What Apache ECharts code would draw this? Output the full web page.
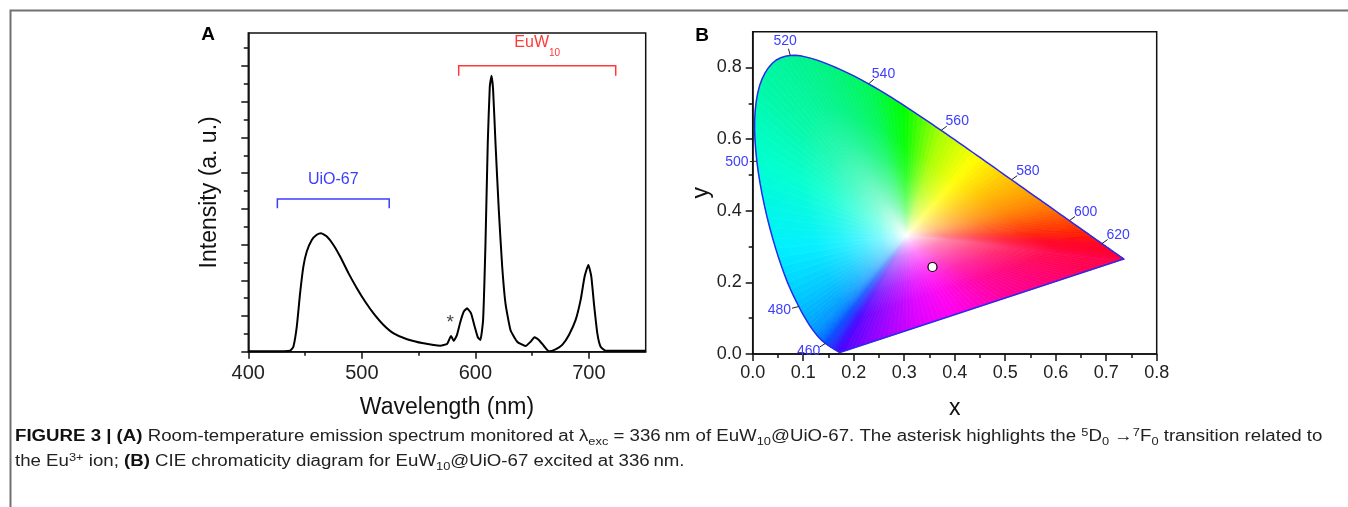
<!DOCTYPE html>
<html>
<head>
<meta charset="utf-8">
<script src="https://cdn.jsdelivr.net/npm/echarts@6/dist/echarts.min.js"></script>
<style>
  html, body { margin: 0; padding: 0; background: #fff; }
  #chart { width: 1348px; height: 507px; }
</style>
</head>
<body>
<div id="chart"></div>
<script>
// ---------- Panel A: room-temperature emission spectrum ----------
const wavelength = [400, 420, 436.8, 439.7, 442.7, 445.6, 448.5, 451.5, 455.9, 460.3, 464.1, 469.2, 475, 480.9,
  488.2, 495.6, 503, 510.3, 519.1, 528, 539.8, 554.4, 569.1, 575, 578.6, 580.9, 583.8, 586.8, 589.7, 592.7,
  596.2, 599.4, 602.1, 604.4, 606.8, 608.9, 610.9, 612.7, 614.2, 615.6, 617.7, 620.6, 623.6, 626.5, 630.9,
  636.8, 644.2, 648.6, 652.1, 655.9, 660.3, 664.7, 670.6, 676.5, 682.4, 688.3, 692.7, 696.2, 699.5, 702.1,
  704.4, 707.4, 710.3, 714.7, 730, 750];
const intensity = [0.02, 0.02, 0.05, 0.28, 1.40, 3.27, 4.77, 5.61, 6.26, 6.55, 6.64, 6.45, 5.98, 5.33,
  4.40, 3.56, 2.80, 2.15, 1.50, 1.03, 0.70, 0.47, 0.34, 0.43, 0.88, 0.60, 0.94, 1.68, 2.24, 2.43,
  2.15, 1.40, 0.81, 0.66, 1.78, 6.08, 11.69, 14.86, 15.46, 14.68, 11.69, 7.95, 4.77, 2.71, 1.22,
  0.56, 0.32, 0.56, 0.81, 0.66, 0.32, 0.02, 0.13, 0.38, 0.94, 1.78, 2.90, 4.21, 4.86, 4.21,
  2.71, 1.03, 0.28, 0.06, 0.05, 0.05];
const wavelengthTicks = [400, 500, 600, 700];
const wavelengthMinorTicks = [450, 550, 650];
const intensityTicks = [0, 2, 4, 6, 8, 10, 12, 14, 16];
const intensityMinorTicks = [1, 3, 5, 7, 9, 11, 13, 15, 17];

// Emission bands marked with brackets
const bandNames = ['UiO-67', 'EuW10'];
const bandFrom = [425.6, 585.3];
const bandTo = [524.1, 723.6];
const bandTop = [8.55, 16.02];
const bandFoot = [8.04, 15.46];
const bandColors = ['#3c3cff', '#ff3838'];
// 5D0 -> 7F0 line (asterisk)
const f0Peak = [578.6, 0.88];

// ---------- Panel B: CIE 1931 chromaticity diagram ----------
const locusNm = [380, 385, 390, 395, 400, 405, 410, 415, 420, 425, 430, 435, 440, 445, 450, 455, 460, 465,
  470, 475, 480, 485, 490, 495, 500, 505, 510, 515, 520, 525, 530, 535, 540, 545, 550, 555, 560, 565, 570,
  575, 580, 585, 590, 595, 600, 605, 610, 615, 620, 625, 630, 635, 640, 645, 650, 655, 660, 665, 670, 675,
  680, 685, 690, 695, 700];
const locusX = [0.1741, 0.1740, 0.1738, 0.1736, 0.1733, 0.1730, 0.1726, 0.1721, 0.1714, 0.1703, 0.1689,
  0.1669, 0.1644, 0.1611, 0.1566, 0.1510, 0.1440, 0.1355, 0.1241, 0.1096, 0.0913, 0.0687, 0.0454, 0.0235,
  0.0082, 0.0039, 0.0139, 0.0389, 0.0743, 0.1142, 0.1547, 0.1929, 0.2296, 0.2658, 0.3016, 0.3373, 0.3731,
  0.4087, 0.4441, 0.4788, 0.5125, 0.5448, 0.5752, 0.6029, 0.6270, 0.6482, 0.6658, 0.6801, 0.6915, 0.7006,
  0.7079, 0.7140, 0.7190, 0.7230, 0.7260, 0.7283, 0.7300, 0.7311, 0.7320, 0.7327, 0.7334, 0.7340, 0.7344,
  0.7346, 0.7347];
const locusY = [0.0050, 0.0050, 0.0049, 0.0049, 0.0048, 0.0048, 0.0048, 0.0048, 0.0051, 0.0058, 0.0069,
  0.0086, 0.0109, 0.0138, 0.0177, 0.0227, 0.0297, 0.0399, 0.0578, 0.0868, 0.1327, 0.2007, 0.2950, 0.4127,
  0.5384, 0.6548, 0.7502, 0.8120, 0.8338, 0.8262, 0.8059, 0.7816, 0.7543, 0.7243, 0.6923, 0.6589, 0.6245,
  0.5896, 0.5547, 0.5202, 0.4866, 0.4544, 0.4242, 0.3965, 0.3725, 0.3514, 0.3340, 0.3197, 0.3083, 0.2993,
  0.2920, 0.2859, 0.2809, 0.2770, 0.2740, 0.2717, 0.2700, 0.2689, 0.2680, 0.2673, 0.2666, 0.2660, 0.2656,
  0.2654, 0.2653];
const locusLabelNm = [460, 480, 500, 520, 540, 560, 580, 600, 620];
const cieXTicks = [0, 0.1, 0.2, 0.3, 0.4, 0.5, 0.6, 0.7, 0.8];
const cieXMinorTicks = [0.05, 0.15, 0.25, 0.35, 0.45, 0.55, 0.65, 0.75];
const cieYTicks = [0, 0.2, 0.4, 0.6, 0.8];
const cieYMinorTicks = [0.1, 0.3, 0.5, 0.7];
// chromaticity of EuW10@UiO-67 under 336 nm excitation
const sampleXY = [0.356, 0.243];

// ---------- drawing styles ----------
const FONT = '"Liberation Sans", Arial, Helvetica, sans-serif';
const WHITE_POINT = [0.305, 0.33];
const SPECTRAL_HUES = [[380, '#5000ff'], [440, '#3a10ff'], [455, '#1838ff'], [460, '#0048ff'], [470, '#0090ff'],
  [480, '#00c0ff'], [490, '#00f0ff'], [500, '#00ffd0'], [510, '#00f8a8'], [520, '#00f494'], [530, '#00f47c'],
  [540, '#00f858'], [550, '#00ff00'], [560, '#a8ff00'], [570, '#ffff00'], [580, '#ffc000'], [590, '#ff8800'],
  [600, '#ff4800'], [610, '#ff1800'], [620, '#ff0020'], [650, '#ff0038'], [700, '#ff0044']];
const PURPLE_HUES = [[0, '#ff0048'], [0.1, '#ff0050'], [0.4, '#ff0098'], [0.6, '#ff00f0'], [0.72, '#e000ff'],
  [0.82, '#b000ff'], [0.92, '#8000ff'], [1, '#5000ff']];
// how quickly the colour saturates going out from the white point (offset -> share of full colour)
const SATURATION = [[0, 0], [0.1, 0.28], [0.2, 0.5], [0.35, 0.7], [0.5, 0.85], [0.7, 0.97], [1, 1]];
const SPLINE_STEPS = 4;

function hexRgb(h) { return [1, 3, 5].map(k => parseInt(h.substr(k, 2), 16)); }
function rgbStr(c) { return 'rgb(' + c.map(v => Math.round(v)).join(',') + ')'; }
function ramp(stops, v) {
  if (v <= stops[0][0]) return hexRgb(stops[0][1]);
  for (let k = 1; k < stops.length; k++) {
    if (v <= stops[k][0]) {
      const a = hexRgb(stops[k - 1][1]), b = hexRgb(stops[k][1]);
      const t = (v - stops[k - 1][0]) / (stops[k][0] - stops[k - 1][0]);
      return a.map((c, j) => c + (b[j] - c) * t);
    }
  }
  return hexRgb(stops[stops.length - 1][1]);
}
function shadeStops(col) {
  return SATURATION.map(([p, m]) => ({ offset: p, color: rgbStr(col.map(c => 255 + (c - 255) * m)) }));
}
function lerpPt(a, b, t) { return [a[0] + (b[0] - a[0]) * t, a[1] + (b[1] - a[1]) * t]; }

// locus in pixels
function locusPixels(api) { return locusX.map((x, i) => api.coord([x, locusY[i]])); }
// smooth (Catmull-Rom) pixel path between locus points i and i+1
function splineSeg(P, i, steps) {
  const p0 = P[Math.max(i - 1, 0)], p1 = P[i], p2 = P[i + 1], p3 = P[Math.min(i + 2, P.length - 1)];
  const out = [];
  for (let s = 0; s <= steps; s++) {
    const t = s / steps, t2 = t * t, t3 = t2 * t;
    out.push([0, 1].map(j => 0.5 * (2 * p1[j] + (-p0[j] + p2[j]) * t +
      (2 * p0[j] - 5 * p1[j] + 4 * p2[j] - p3[j]) * t2 + (-p0[j] + 3 * p1[j] - 3 * p2[j] + p3[j]) * t3)));
  }
  return out;
}

function fanPiece(w, a, b, col) {
  const mid = lerpPt(a, b, 0.5);
  const r = Math.max(Math.hypot(mid[0] - w[0], mid[1] - w[1]), 1);
  const grad = new echarts.graphic.RadialGradient(w[0], w[1], r, shadeStops(col), true);
  return { type: 'polygon', shape: { points: [w, a, b] }, style: { fill: grad, stroke: grad, lineWidth: 0.7 } };
}

// colour fill of the horseshoe: a fan of thin wedges from the white point to the boundary
function renderFill(params, api) {
  const i = params.dataIndex;
  const P = locusPixels(api);
  const n = P.length;
  const w = api.coord(WHITE_POINT);
  const children = [];
  if (i < n - 1) {
    const pts = splineSeg(P, i, SPLINE_STEPS);
    for (let k = 0; k < SPLINE_STEPS; k++) {
      const nm = locusNm[i] + (locusNm[i + 1] - locusNm[i]) * (k + 0.5) / SPLINE_STEPS;
      children.push(fanPiece(w, pts[k], pts[k + 1], ramp(SPECTRAL_HUES, nm)));
    }
  } else {
    // line of purples, from the red end back to the violet end
    const a = P[n - 1], b = P[0];
    const steps = 60;
    for (let k = 0; k < steps; k++) {
      const t0 = k / steps, t1 = (k + 1) / steps;
      children.push(fanPiece(w, lerpPt(a, b, t0), lerpPt(a, b, t1), ramp(PURPLE_HUES, (t0 + t1) / 2)));
    }
  }
  return { type: 'group', children };
}

// boundary of the diagram: smooth spectral locus closed by the line of purples
function renderOutline(params, api) {
  const P = locusPixels(api);
  let pts = [P[0]];
  for (let i = 0; i < P.length - 1; i++) pts = pts.concat(splineSeg(P, i, SPLINE_STEPS).slice(1));
  return { type: 'polygon', shape: { points: pts }, style: { fill: null, stroke: '#2a2aee', lineWidth: 1.5 } };
}

// wavelength marks on the spectral locus
function renderLocusLabel(params, api) {
  const nm = api.value(2);
  const idx = locusNm.indexOf(nm);
  const p = api.coord([locusX[idx], locusY[idx]]);
  // normal taken in chromaticity space, then mapped to pixels
  const tx = locusX[idx + 1] - locusX[idx - 1], ty = locusY[idx + 1] - locusY[idx - 1];
  const q = api.coord([locusX[idx] - ty, locusY[idx] + tx]);
  let nx = q[0] - p[0], ny = q[1] - p[1];
  const L = Math.hypot(nx, ny); nx /= L; ny /= L;
  const w = api.coord(WHITE_POINT);
  if ((p[0] - w[0]) * nx + (p[1] - w[1]) * ny < 0) { nx = -nx; ny = -ny; }
  const e = [p[0] + nx * 7, p[1] + ny * 7];
  return {
    type: 'group',
    children: [
      { type: 'line', shape: { x1: p[0], y1: p[1], x2: e[0], y2: e[1] }, style: { stroke: '#222', lineWidth: 1 } },
      { type: 'text', x: e[0] + nx * 13, y: e[1] + ny * 8,
        style: { text: String(nm), fill: '#3d3dff', fontSize: 14, fontFamily: FONT, align: 'center', verticalAlign: 'middle' } }
    ]
  };
}

// brackets and their captions above the spectrum
function renderBand(params, api) {
  const i = params.dataIndex;
  const a = api.coord([bandFrom[i], bandFoot[i]]);
  const b = api.coord([bandFrom[i], bandTop[i]]);
  const c = api.coord([bandTo[i], bandTop[i]]);
  const d = api.coord([bandTo[i], bandFoot[i]]);
  const col = bandColors[i];
  const name = bandNames[i];
  const m = name.match(/^(.*?)(\d+)$/);
  const label = m && name.indexOf('-') < 0 ? '{n|' + m[1] + '}{s|' + m[2] + '}' : '{n|' + name + '}';
  return {
    type: 'group',
    children: [
      { type: 'polyline', shape: { points: [a, b, c, d] }, style: { stroke: col, lineWidth: 1.5, fill: null } },
      { type: 'text', x: (b[0] + c[0]) / 2, y: b[1] - 18,
        style: { text: label, fill: col, align: 'center', verticalAlign: 'middle',
          rich: { n: { fontSize: 16, fontFamily: FONT, fill: col, lineHeight: 18, verticalAlign: 'top' },
                  s: { fontSize: 10, fontFamily: FONT, fill: col, lineHeight: 26, verticalAlign: 'top', padding: [14, 0, 0, 0] } } } }
    ]
  };
}

function renderStar(params, api) {
  const p = api.coord([api.value(0), api.value(1)]);
  return { type: 'text', x: p[0] - 1, y: p[1] - 13,
    style: { text: '*', fill: '#444', fontSize: 19, fontFamily: FONT, align: 'center', verticalAlign: 'middle' } };
}

const axisLineStyle = { show: true, lineStyle: { color: '#111', width: 1.5 } };
const labelStyle = { color: '#222', fontFamily: FONT };
const nameStyle = { color: '#111', fontSize: 23, fontFamily: FONT };

function minorAxis(gridIndex, position, min, max, ticks, len) {
  return {
    type: 'value', gridIndex, position, min, max,
    axisLine: { show: false, onZero: false }, splitLine: { show: false },
    axisLabel: { show: false },
    axisTick: { show: true, customValues: ticks, length: len, lineStyle: { color: '#111', width: 1.5 } }
  };
}

const captionRich = {
  b: { fontSize: 16, fontWeight: 'bold', fontFamily: FONT, fill: '#111', lineHeight: 20 },
  sub: { fontSize: 11, fontFamily: FONT, fill: '#222', lineHeight: 12, verticalAlign: 'bottom' },
  sup: { fontSize: 11, fontFamily: FONT, fill: '#222', lineHeight: 12, verticalAlign: 'top' }
};

const chart = echarts.init(document.getElementById('chart'), null, { renderer: 'canvas' });
chart.setOption({
  animation: false,
  backgroundColor: '#fff',
  textStyle: { fontFamily: FONT },
  grid: [
    { left: 248.3, top: 33, width: 397.4, height: 318.7, show: true, borderColor: '#111', borderWidth: 1.5, outerBoundsMode: 'none' },
    { left: 752.7, top: 31.7, width: 404, height: 322.3, show: true, borderColor: '#111', borderWidth: 1.5, outerBoundsMode: 'none' }
  ],
  xAxis: [
    { type: 'value', gridIndex: 0, position: 'bottom', min: 400, max: 750,
      name: 'Wavelength (nm)', nameLocation: 'middle', nameGap: 44, nameTextStyle: nameStyle,
      axisLine: axisLineStyle, splitLine: { show: false },
      axisTick: { show: true, customValues: wavelengthTicks, length: 7, lineStyle: { color: '#111', width: 1.5 } },
      axisLabel: Object.assign({ customValues: wavelengthTicks, fontSize: 20, margin: 12 }, labelStyle) },
    minorAxis(0, 'bottom', 400, 750, wavelengthMinorTicks, 4),
    { type: 'value', gridIndex: 1, position: 'bottom', min: 0, max: 0.8,
      name: 'x', nameLocation: 'middle', nameGap: 43, nameTextStyle: nameStyle,
      axisLine: axisLineStyle, splitLine: { show: false },
      axisTick: { show: true, customValues: cieXTicks, length: 7, lineStyle: { color: '#111', width: 1.5 } },
      axisLabel: Object.assign({ customValues: cieXTicks, fontSize: 18, margin: 10, formatter: v => v.toFixed(1) }, labelStyle) },
    minorAxis(1, 'bottom', 0, 0.8, cieXMinorTicks, 4)
  ],
  yAxis: [
    { type: 'value', gridIndex: 0, position: 'left', min: 0, max: 17.85,
      name: 'Intensity (a. u.)', nameLocation: 'middle', nameGap: 27, nameTextStyle: nameStyle,
      axisLine: axisLineStyle, splitLine: { show: false },
      axisTick: { show: true, customValues: intensityTicks, length: 7, lineStyle: { color: '#111', width: 1.5 } },
      axisLabel: { show: false } },
    minorAxis(0, 'left', 0, 17.85, intensityMinorTicks, 4.5),
    { type: 'value', gridIndex: 1, position: 'left', min: 0, max: 0.9,
      name: 'y', nameLocation: 'middle', nameGap: 39, nameTextStyle: nameStyle,
      axisLine: axisLineStyle, splitLine: { show: false },
      axisTick: { show: true, customValues: cieYTicks, length: 7, lineStyle: { color: '#111', width: 1.5 } },
      axisLabel: Object.assign({ customValues: cieYTicks, fontSize: 18, margin: 11, formatter: v => v.toFixed(1) }, labelStyle) },
    minorAxis(1, 'left', 0, 0.9, cieYMinorTicks, 4)
  ],
  series: [
    { type: 'line', xAxisIndex: 0, yAxisIndex: 0, data: wavelength.map((w, i) => [w, intensity[i]]),
      showSymbol: false, smooth: 0.15, lineStyle: { color: '#000', width: 2 }, z: 5 },
    { type: 'custom', xAxisIndex: 0, yAxisIndex: 0, data: bandNames.map((n, i) => [bandFrom[i], bandTop[i]]),
      renderItem: renderBand, z: 6 },
    { type: 'custom', xAxisIndex: 0, yAxisIndex: 0, data: [f0Peak], renderItem: renderStar, z: 6 },
    { type: 'custom', xAxisIndex: 2, yAxisIndex: 2, data: locusX.map((x, i) => [x, locusY[i]]),
      renderItem: renderFill, z: 2 },
    { type: 'custom', xAxisIndex: 2, yAxisIndex: 2, data: [[locusX[0], locusY[0]]],
      renderItem: renderOutline, z: 3 },
    { type: 'custom', xAxisIndex: 2, yAxisIndex: 2,
      data: locusLabelNm.map(nm => { const k = locusNm.indexOf(nm); return [locusX[k], locusY[k], nm]; }),
      renderItem: renderLocusLabel, z: 4 },
    { type: 'scatter', xAxisIndex: 2, yAxisIndex: 2, data: [sampleXY], symbol: 'circle', symbolSize: 9,
      itemStyle: { color: '#fff', borderColor: '#000', borderWidth: 1.2, opacity: 1 }, z: 6 }
  ],
  graphic: [
    { type: 'polyline', shape: { points: [[10.5, 507], [10.5, 10.5], [1348, 10.5]] },
      style: { stroke: '#707070', lineWidth: 2, fill: null }, silent: true },
    { type: 'text', x: 208, y: 35, style: { text: 'A', fontSize: 19, fontWeight: 'bold', fontFamily: FONT, fill: '#000', align: 'center', verticalAlign: 'middle' } },
    { type: 'text', x: 702, y: 36, style: { text: 'B', fontSize: 19, fontWeight: 'bold', fontFamily: FONT, fill: '#000', align: 'center', verticalAlign: 'middle' } },
    { type: 'text', x: 15, y: 437, scaleX: 1.166, scaleY: 1,
      style: {
        text: '{b|FIGURE 3 | (A)} Room-temperature emission spectrum monitored at \u03bb{sub|exc} = 336\u2009nm of EuW{sub|10}@UiO-67. The asterisk highlights the {sup|5}D{sub|0} \u2192{sup|7}F{sub|0} transition related to',
        fontSize: 16, fontFamily: FONT, fill: '#222', verticalAlign: 'middle', lineHeight: 20, rich: captionRich
      } },
    { type: 'text', x: 15, y: 462, scaleX: 1.166, scaleY: 1,
      style: {
        text: 'the Eu{sup|3+} ion; {b|(B)} CIE chromaticity diagram for EuW{sub|10}@UiO-67 excited at 336\u2009nm.',
        fontSize: 16, fontFamily: FONT, fill: '#222', verticalAlign: 'middle', lineHeight: 20, rich: captionRich
      } }
  ]
});
</script>
</body>
</html>
